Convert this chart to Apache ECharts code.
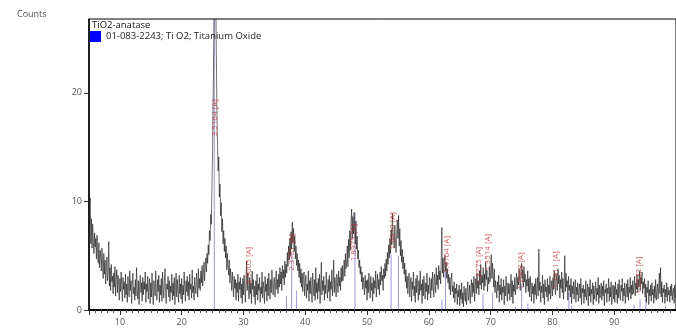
<!DOCTYPE html>
<html>
<head>
<meta charset="utf-8">
<script src="https://cdn.jsdelivr.net/npm/echarts@6/dist/echarts.min.js"></script>
<style>
html,body{margin:0;padding:0;background:#fff;}
#chart{width:676px;height:334px;}
</style>
</head>
<body>
<div id="chart"></div>
<script>
// 2-theta sampling grid of the measured pattern
var twoThetaStart = 5.0;
var twoThetaStep = 0.1;
var counts = [
 7.2, 9.6, 10.3, 6.1, 8.4, 5.7, 7.9, 6.3, 5.2, 7.1,
 5.8, 6.6, 4.7, 6.9, 5.1, 4.3, 6.2, 3.9, 5.5, 4.8,
 3.6, 5.7, 4.1, 2.9, 5.2, 3.3, 4.6, 2.4, 3.8, 4.9,
 2.7, 3.5, 6.3, 2.2, 3.9, 1.8, 4.2, 2.6, 3.1, 1.5,
 3.4, 2.1, 4.0, 1.3, 2.8, 3.7, 1.6, 3.2, 2.3, 0.9,
 2.9, 1.7, 3.5, 2.2, 0.8, 3.0, 1.9, 2.6, 1.1, 3.3,
 1.4, 2.4, 0.7, 3.1, 2.0, 1.2, 3.6, 1.8, 2.7, 0.6,
 2.3, 3.4, 1.5, 2.1, 0.9, 2.8, 1.3, 3.9, 2.0, 1.0,
 2.7, 0.5, 2.2, 3.2, 1.6, 2.5, 0.8, 3.0, 1.4, 2.6,
 1.9, 3.5, 0.7, 2.4, 1.7, 3.1, 1.0, 2.2, 2.9, 0.6,
 2.5, 1.2, 3.4, 1.8, 0.5, 2.7, 2.1, 1.3, 3.6, 1.5,
 0.9, 2.8, 1.7, 3.2, 0.7, 2.3, 1.4, 2.9, 0.8, 3.5,
 2.0, 1.1, 2.6, 3.8, 1.5, 0.6, 2.4, 1.9, 3.1, 1.2,
 2.7, 0.8, 2.2, 1.6, 3.3, 0.9, 2.5, 1.3, 3.0, 0.5,
 2.1, 3.4, 1.2, 2.8, 1.8, 0.7, 3.2, 1.5, 2.4, 1.0,
 2.9, 0.6, 2.3, 1.4, 3.5, 2.0, 0.8, 2.7, 1.7, 3.1,
 1.3, 2.6, 0.9, 3.3, 1.9, 2.4, 1.1, 3.7, 1.6, 2.2,
 0.9, 3.0, 2.1, 1.5, 3.4, 2.6, 1.2, 3.8, 2.0, 2.9,
 1.8, 3.6, 2.5, 4.1, 2.2, 3.3, 4.4, 2.7, 3.9, 4.8,
 3.5, 5.2, 4.3, 6.0, 5.1, 7.3, 6.4, 8.8, 7.9, 11.2,
 14.6, 19.8, 24.5, 31.0, 33.0, 30.2, 24.0, 18.5, 15.2, 12.8,
 14.1, 10.4, 11.6, 8.7, 9.9, 7.2, 8.4, 6.1, 7.3, 5.4,
 6.6, 4.8, 5.9, 3.7, 5.2, 4.1, 3.2, 4.6, 2.5, 3.8,
 2.9, 1.8, 3.5, 2.3, 1.2, 3.1, 2.0, 2.8, 0.9, 2.5,
 1.6, 3.3, 0.8, 2.6, 1.9, 3.0, 1.1, 2.4, 0.6, 2.9,
 1.4, 3.2, 2.0, 0.7, 2.6, 4.5, 1.8, 3.4, 2.2, 1.0,
 3.0, 1.5, 2.5, 0.6, 3.6, 1.9, 2.8, 1.2, 2.2, 0.5,
 2.7, 1.4, 3.3, 0.9, 2.4, 1.8, 3.0, 0.7, 2.1, 1.5,
 3.5, 1.1, 2.6, 2.0, 0.6, 3.1, 1.7, 2.4, 0.8, 2.9,
 1.3, 3.4, 2.2, 1.0, 2.8, 1.6, 3.7, 2.3, 1.4, 2.6,
 3.0, 1.2, 2.5, 3.6, 1.9, 2.8, 1.5, 3.3, 2.1, 3.9,
 2.4, 3.5, 1.8, 4.1, 2.9, 3.7, 2.3, 4.5, 3.0, 4.2,
 3.4, 5.3, 4.0, 5.9, 4.6, 6.6, 5.0, 7.2, 5.6, 8.1,
 6.2, 7.5, 5.4, 6.8, 4.7, 5.9, 4.1, 5.2, 3.6, 4.6,
 3.0, 4.3, 2.5, 3.8, 2.1, 3.4, 1.7, 2.9, 3.5, 1.3,
 2.6, 3.2, 1.1, 2.4, 1.8, 3.6, 0.8, 2.7, 1.5, 3.0,
 1.9, 0.7, 3.4, 2.2, 1.3, 2.8, 0.9, 3.9, 1.6, 2.5,
 1.0, 2.9, 1.7, 3.3, 0.6, 2.4, 4.4, 1.4, 2.7, 1.8,
 3.1, 0.9, 2.3, 1.5, 3.5, 2.0, 1.1, 2.8, 1.7, 3.2,
 0.8, 2.6, 1.9, 3.7, 1.3, 2.4, 4.6, 1.6, 3.0, 2.1,
 1.2, 3.3, 2.5, 1.6, 3.6, 2.2, 3.0, 1.8, 3.9, 2.6,
 4.1, 2.7, 3.5, 4.6, 3.1, 5.2, 3.8, 4.4, 5.9, 4.0,
 6.5, 4.8, 7.3, 5.5, 8.0, 9.3, 6.6, 8.6, 7.0, 9.0,
 7.7, 6.1, 8.2, 5.6, 6.8, 4.7, 5.5, 3.9, 4.6, 3.3,
 4.0, 2.6, 3.5, 1.9, 3.0, 2.4, 1.4, 3.2, 2.0, 2.7,
 0.9, 2.8, 1.6, 3.4, 2.2, 1.1, 3.1, 1.8, 2.5, 0.8,
 3.0, 1.5, 2.7, 2.0, 3.6, 1.2, 2.4, 3.3, 1.9, 2.8,
 1.4, 3.5, 2.3, 4.0, 2.7, 3.2, 1.8, 3.8, 2.9, 4.3,
 3.1, 4.7, 3.6, 5.3, 4.2, 6.0, 4.8, 6.6, 5.2, 7.4,
 6.0, 8.9, 7.1, 6.4, 5.7, 7.8, 6.2, 5.3, 7.0, 8.3,
 6.6, 8.7, 5.9, 7.5, 5.0, 6.4, 4.4, 5.6, 3.8, 4.9,
 3.3, 4.3, 2.6, 3.7, 2.0, 3.1, 1.5, 2.7, 3.4, 1.2,
 2.4, 3.0, 0.8, 2.6, 1.9, 3.5, 1.3, 2.2, 0.7, 2.9,
 1.6, 3.2, 2.1, 0.9, 2.7, 1.4, 3.6, 1.8, 2.4, 0.6,
 2.8, 1.3, 3.1, 2.2, 1.0, 2.5, 1.7, 3.4, 0.9, 2.3,
 1.5, 3.0, 2.4, 1.1, 2.9, 1.8, 3.5, 2.2, 1.2, 3.3,
 2.6, 1.6, 3.9, 2.3, 3.2, 1.9, 4.1, 2.8, 3.6, 2.4,
 4.5, 7.6, 3.4, 4.8, 3.0, 4.3, 5.0, 3.6, 4.4, 2.9,
 3.8, 2.5, 3.3, 1.9, 3.0, 1.4, 2.7, 3.4, 1.7, 2.2,
 1.1, 2.6, 0.7, 2.0, 1.5, 2.4, 0.5, 1.8, 1.2, 2.3,
 0.4, 1.9, 1.0, 2.5, 0.6, 1.6, 0.3, 2.2, 1.3, 0.8,
 2.0, 0.5, 1.7, 2.6, 0.9, 1.4, 2.3, 0.6, 1.9, 2.8,
 1.2, 2.5, 1.6, 3.1, 0.8, 2.2, 2.9, 1.5, 3.4, 2.0,
 2.7, 1.4, 3.6, 2.3, 4.2, 1.9, 3.2, 2.5, 3.9, 1.8,
 3.3, 2.2, 4.4, 2.8, 3.7, 1.7, 3.0, 2.4, 4.0, 2.6,
 3.5, 5.1, 2.9, 4.3, 3.2, 2.1, 3.8, 1.6, 2.7, 2.0,
 1.1, 2.6, 1.8, 3.2, 0.7, 2.3, 1.4, 2.9, 0.9, 2.1,
 1.6, 2.8, 0.5, 2.2, 1.3, 3.1, 1.9, 0.8, 2.5, 1.5,
 2.4, 0.9, 2.0, 3.3, 1.2, 2.7, 0.6, 2.3, 1.7, 3.0,
 1.4, 2.6, 3.4, 1.9, 3.0, 2.3, 3.8, 2.7, 1.8, 3.5,
 4.3, 2.9, 3.7, 2.1, 4.0, 2.6, 3.3, 1.6, 2.8, 2.2,
 3.6, 1.7, 2.9, 1.2, 3.1, 2.0, 0.8, 2.5, 1.5, 2.2,
 0.6, 2.4, 1.4, 2.9, 1.0, 2.0, 3.0, 1.3, 5.6, 1.8,
 2.6, 0.7, 2.2, 1.6, 3.2, 1.1, 2.4, 0.5, 2.8, 1.7,
 2.1, 1.2, 2.9, 0.8, 2.3, 1.5, 3.1, 1.0, 2.0, 2.7,
 1.3, 3.0, 1.9, 3.6, 2.2, 1.4, 3.3, 2.6, 1.8, 3.8,
 2.4, 3.2, 1.1, 2.8, 2.0, 3.5, 1.6, 2.9, 1.0, 2.5,
 5.0, 1.7, 3.4, 2.1, 2.7, 0.9, 3.1, 1.8, 2.3, 1.2,
 2.9, 0.6, 2.2, 1.5, 2.6, 1.0, 1.9, 2.8, 0.7, 2.1,
 1.4, 2.5, 0.8, 1.8, 2.4, 1.1, 2.9, 0.5, 2.0, 1.6,
 2.3, 0.6, 1.9, 1.2, 2.7, 0.9, 1.6, 2.4, 0.4, 2.1,
 1.3, 2.8, 0.7, 1.9, 1.5, 2.5, 0.5, 2.2, 1.0, 1.7,
 2.6, 0.8, 2.0, 1.4, 3.0, 0.6, 2.3, 1.1, 1.8, 2.5,
 0.9, 2.2, 1.3, 2.7, 0.4, 1.9, 1.6, 2.4, 0.7, 2.0,
 1.5, 2.9, 0.8, 2.1, 1.2, 2.6, 0.5, 1.8, 2.3, 1.0,
 2.2, 0.7, 2.6, 1.4, 1.9, 0.6, 2.4, 1.1, 2.8, 1.5,
 0.9, 2.3, 1.7, 2.9, 0.8, 2.0, 1.3, 2.5, 0.6, 1.8,
 2.4, 1.2, 2.8, 0.9, 2.1, 1.6, 3.0, 1.0, 2.3, 1.4,
 2.7, 1.5, 2.2, 3.1, 1.3, 2.5, 1.9, 3.3, 1.6, 2.8,
 2.2, 3.6, 1.8, 3.0, 2.4, 3.5, 1.5, 2.6, 2.0, 2.9,
 1.2, 2.4, 0.7, 2.1, 1.6, 2.7, 0.5, 1.9, 1.3, 2.3,
 0.8, 2.5, 1.4, 1.9, 0.6, 2.2, 1.1, 2.8, 0.9, 1.7,
 2.4, 1.0, 2.1, 3.4, 1.5, 3.9, 1.2, 2.6, 0.7, 2.0,
 1.6, 2.3, 0.6, 1.9, 1.2, 2.5, 0.8, 2.1, 1.4, 1.8,
 0.7, 2.2, 1.3, 2.4, 0.9, 1.7, 2.0, 0.6, 2.3, 1.1
];

// reference pattern 01-083-2243 (sticks)
var refName = '01-083-2243; Ti O2; Titanium Oxide';
var refPos = [25.28, 36.95, 37.80, 38.57, 48.05, 53.89, 55.06, 62.12, 62.69, 68.76, 70.31, 74.03, 75.03, 76.02, 80.73, 82.66, 83.15, 93.22, 94.18, 95.14, 98.32];
var refHeight = [26.8, 1.3, 5.2, 1.8, 9.0, 5.1, 5.0, 1.0, 3.6, 1.5, 1.6, 0.3, 2.4, 0.6, 0.3, 1.6, 0.4, 0.5, 1.0, 1.3, 0.4];

// peak labels (d-spacing, anatase)
var peakPos = [25.3, 30.8, 37.8, 47.9, 54.2, 62.9, 68.0, 69.5, 74.9, 80.6, 94.0];
var peakLabelY = [17.7, 4.1, 5.3, 6.2, 7.3, 5.1, 4.1, 5.3, 3.6, 3.7, 3.2];
var peakText = ['3.5164 [A]', '2.9005 [A]', '2.3781 [A]', '1.8975 [A]', '1.6910 [A]', '1.4764 [A]', '1.3775 [A]', '1.3514 [A]', '1.2668 [A]', '1.1911 [A]', '1.0532 [A]'];

var patternTitle = 'TiO2-anatase';
var yName = 'Counts';

var lineData = counts.map(function (c, i) {
  return [Math.round((twoThetaStart + i * twoThetaStep) * 100) / 100, c];
});
var refData = refPos.map(function (p, i) { return [p, refHeight[i]]; });
var labelData = peakPos.map(function (p, i) { return { value: [p, peakLabelY[i]], name: peakText[i] }; });

var FONT = 'Open Sans, Noto Sans, sans-serif';
var chart = echarts.init(document.getElementById('chart'), null, { renderer: 'canvas' });
chart.setOption({
  animation: false,
  backgroundColor: '#fff',
  title: [
    { text: yName, left: 17, top: 10, padding: 0, textStyle: { fontSize: 9, fontWeight: 'normal', color: '#555', fontFamily: FONT } },
    { text: patternTitle, left: 92, top: 20, padding: 0, textStyle: { fontSize: 9.5, fontWeight: 'normal', color: '#111', fontFamily: FONT } }
  ],
  legend: {
    data: [{ name: refName, icon: 'rect', itemStyle: { color: '#0000ff', opacity: 1 } }],
    left: 90, top: 31, itemWidth: 11, itemHeight: 11, itemGap: 4,
    padding: 0,
    textStyle: { fontSize: 9.5, color: '#222', fontFamily: FONT }
  },
  grid: { left: 89, top: 19, width: 601, height: 291, show: true, borderColor: '#000', borderWidth: 1, backgroundColor: 'transparent', containLabel: false },
  xAxis: {
    type: 'value', min: 5, max: 100, splitNumber: 9,
    axisLine: { lineStyle: { color: '#000', width: 2 } },
    axisTick: { show: true, length: 5, lineStyle: { color: '#333' } },
    minorTick: { show: true, splitNumber: 10, length: 3, lineStyle: { color: '#555' } },
    splitLine: { show: false },
    axisLabel: { fontSize: 9, color: '#555', margin: 8, fontFamily: FONT, showMinLabel: false, showMaxLabel: false }
  },
  yAxis: {
    type: 'value', min: 0, max: 26.8, interval: 10,
    axisLine: { show: true, lineStyle: { color: '#000', width: 1.5 } },
    axisTick: { show: true, length: 5, lineStyle: { color: '#333' } },
    splitLine: { show: false },
    axisLabel: { fontSize: 9, color: '#555', margin: 7, fontFamily: FONT, showMaxLabel: false }
  },
  series: [
    {
      type: 'bar', name: refName, data: refData, barWidth: 1, clip: true, z: 1,
      itemStyle: { color: '#3434b8', opacity: 0.5 }, silent: true
    },
    {
      type: 'line', name: 'pattern', data: lineData, showSymbol: false, symbol: 'none',
      lineStyle: { color: '#111', width: 0.7, opacity: 0.85 }, clip: true, z: 2, silent: true
    },
    {
      type: 'scatter', name: 'labels', data: labelData, symbolSize: 0, z: 4, silent: true,
      label: {
        show: true, formatter: '{b}', rotate: 90, position: 'inside', align: 'center', verticalAlign: 'middle',
        fontSize: 8, color: '#c42b2b', fontFamily: FONT
      }
    }
  ]
});
</script>
</body>
</html>
